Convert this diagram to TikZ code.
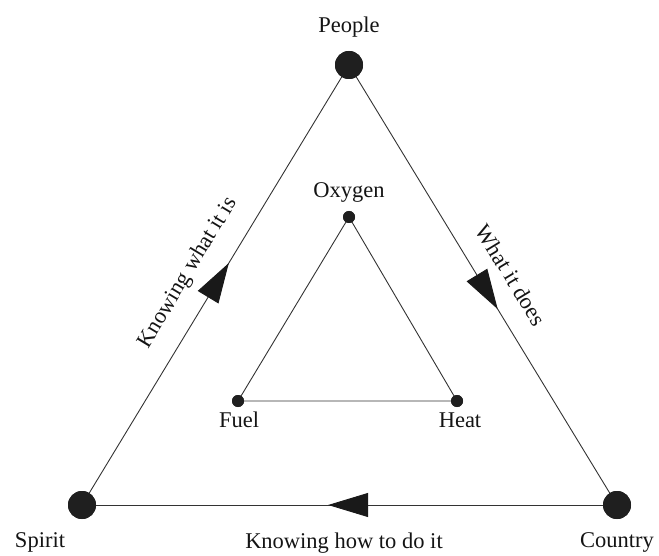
\documentclass[tikz,border=0pt]{standalone}
\usepackage{fontspec}
\setmainfont{Liberation Serif}
\usetikzlibrary{arrows.meta,decorations.markings}
\begin{document}
\begin{tikzpicture}[x=1pt,y=-1pt,
  bigdot/.style={circle,fill=black!88,inner sep=0pt,minimum size=28pt},
  smalldot/.style={circle,fill=black!88,inner sep=0pt,minimum size=12pt},
  lbl/.style={font=\fontsize{22.5}{26}\selectfont,text=black!92,inner sep=0pt},
  edge/.style={draw=black!80,line width=0.9pt},
  midarrow/.style={postaction={decorate},decoration={markings,
     mark=at position #1 with {\arrow[black!90]{Triangle[length=40pt,width=24pt]}}}}]
\useasboundingbox (0,0) rectangle (659,556);
% outer vertices
\node[bigdot] (people) at (349,65) {};
\node[bigdot] (spirit) at (82,505) {};
\node[bigdot] (country) at (617,505) {};
% inner vertices
\node[smalldot] (oxygen) at (349,217) {};
\node[smalldot] (fuel) at (238,401) {};
\node[smalldot] (heat) at (457,401) {};
% outer edges
\draw[edge,midarrow=0.55] (spirit.center) -- (people.center);
\draw[edge,midarrow=0.555] (people.center) -- (country.center);
\draw[edge,midarrow=0.54] (country.center) -- (spirit.center);
% redraw dots on top
\node[bigdot] at (people) {};
\node[bigdot] at (spirit) {};
\node[bigdot] at (country) {};
% inner triangle
\draw[edge] (oxygen.center) -- (heat.center) -- (fuel.center) -- (oxygen.center);
\node[smalldot] at (oxygen) {};
\node[smalldot] at (fuel) {};
\node[smalldot] at (heat) {};
% labels
\node[lbl,anchor=base] (tpeople) at (349,33) {People};
\node[lbl,anchor=base] (toxygen) at (349,198) {Oxygen};
\node[lbl,anchor=base] (tfuel) at (239,427) {Fuel};
\node[lbl,anchor=base] (theat) at (460,427) {Heat};
\node[lbl,anchor=base] (tspirit) at (40,547) {Spirit};
\node[lbl,anchor=base] (tcountry) at (617,547) {Country};
\node[lbl,anchor=base] (thow) at (344,548) {Knowing how to do it};
\node[lbl,rotate=58.75] (twhat) at (188,273) {Knowing what it is};
\node[lbl,rotate=-58.75] (tdoes) at (511,275) {What it does};
\end{tikzpicture}
\end{document}
